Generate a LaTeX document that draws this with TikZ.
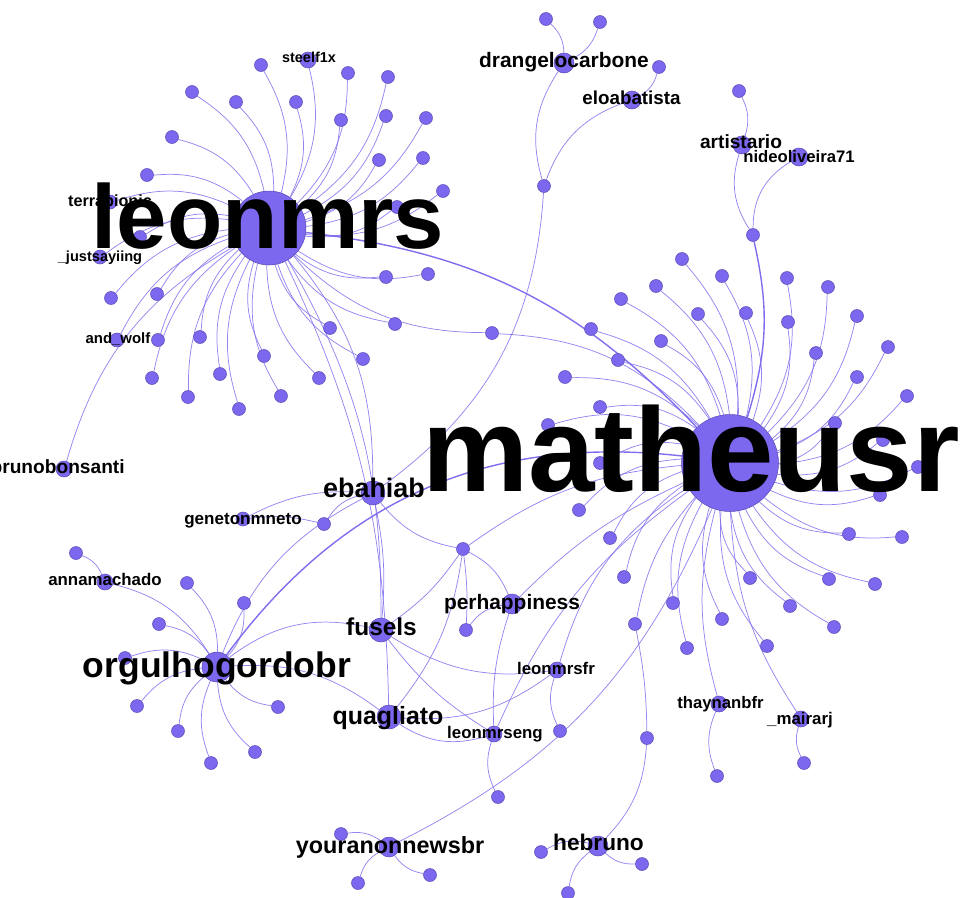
\documentclass[tikz,border=0pt]{standalone}
\usepackage{fontspec}
\setmainfont{Liberation Sans}
\usepackage{tikz}
\usetikzlibrary{backgrounds}
\definecolor{cNode}{HTML}{7B68EE}
\definecolor{cRim}{HTML}{5A4CB6}
\definecolor{cEdge}{HTML}{7F6FEE}
\tikzset{
  vert/.style={circle,fill=cNode,draw=cRim,line width=0.3pt,inner sep=0pt,minimum size=2.6mm},
  tie/.style={draw=cEdge,line width=0.42pt,opacity=0.85},
  heavy/.style={tie,line width=0.8pt,opacity=1},
  handle/.style={inner sep=0pt,anchor=base,text=black},
}
\newcommand{\acct}[4]{\node[vert,minimum size=#4] (#1) at (#2,#3) {};}
\newcommand{\nick}[5]{\node[handle,font=\bfseries\fontsize{#4}{#4}\selectfont]
  (#1) at (#2,#3) {#5};}
\newcommand{\tie}[3][22]{\draw[tie] (#2) to[bend left=#1] (#3);}

\begin{document}
\begin{tikzpicture}[x=0.02cm,y=-0.02cm]
  \useasboundingbox (0,0) rectangle (967,897);

  % named accounts
  \acct{leo}{269}{228}{1.48cm}\acct{mat}{730}{463}{1.94cm}
  \acct{orgu}{217}{667}{0.6cm}\acct{ebah}{373}{493}{0.48cm}
  \acct{fuse}{381}{630}{0.48cm}\acct{quag}{389}{717}{0.48cm}
  \acct{perh}{512}{604}{0.4cm}\acct{your}{389}{847}{0.4cm}
  \acct{hebr}{598}{846}{0.4cm}\acct{dran}{564}{63}{0.4cm}
  \acct{eloa}{632}{100}{0.36cm}\acct{arti}{742}{145}{0.36cm}
  \acct{nide}{799}{157}{0.36cm}\acct{lfr}{557}{670}{0.32cm}
  \acct{leng}{494}{734}{0.32cm}\acct{thay}{719}{704}{0.32cm}
  \acct{mair}{801}{719}{0.32cm}\acct{gene}{243}{519}{0.28cm}
  \acct{anna}{105}{582}{0.32cm}\acct{brun}{64}{469}{0.32cm}
  \acct{terr}{110}{202}{0.28cm}\acct{just}{100}{257}{0.28cm}
  \acct{andw}{117}{340}{0.28cm}\acct{stee}{308}{60}{0.32cm}

  % unnamed accounts
  \foreach \x/\y [count=\i] in {261/65,348/73,388/77,192/92,236/102,296/102,
      341/120,386/116,426/118,172/137,379/160,423/158,147/175,443/191,397/207,
      140/237,386/277,428/274,111/298,157/294,330/328,395/324,158/340,200/337,
      264/356,363/359,152/378,220/374,319/378,281/396,188/397,239/409}
    \node[vert] (v\i) at (\x,\y) {};
  \foreach \x/\y [count=\i] in {682/259,722/276,787/278,828/287,656/286,621/299,
      698/314,746/313,788/322,857/316,591/329,661/341,816/353,888/347,618/360,
      857/377,565/377,907/396,600/407,548/425,835/423,883/440,918/467,600/463,
      880/495,579/510,610/538,849/534,902/537,624/577,750/578,829/579,875/584,
      673/603,790/606,722/619,834/627,687/648,767/646}
    \node[vert] (w\i) at (\x,\y) {};
  \foreach \x/\y [count=\i] in {187/583,244/603,159/624,125/658,137/706,
      278/707,178/731,255/752,211/763}
    \node[vert] (o\i) at (\x,\y) {};
  \node[vert] (a1) at (546,19) {};\node[vert] (a2) at (600,22) {};
  \node[vert] (b1) at (659,67) {};\node[vert] (c1) at (739,91) {};
  \node[vert] (k1) at (544,186) {};\node[vert] (k2) at (753,235) {};
  \node[vert] (br) at (492,333) {};\node[vert] (kn) at (463,549) {};
  \node[vert] (g2) at (324,524) {};\node[vert] (r630) at (466,630) {};
  \node[vert] (rl) at (635,624) {};\node[vert] (h4) at (647,738) {};
  \node[vert] (d731) at (560,731) {};\node[vert] (d797) at (498,797) {};
  \node[vert] (t1) at (717,776) {};\node[vert] (q1) at (804,763) {};
  \node[vert] (n1) at (76,553) {};
  \node[vert] (y1) at (341,834) {};\node[vert] (y2) at (430,875) {};
  \node[vert] (y3) at (358,883) {};
  \node[vert] (h1) at (541,852) {};\node[vert] (h2) at (642,864) {};
  \node[vert] (h3) at (568,893) {};

  \begin{scope}[on background layer]
    \foreach \i in {1,...,32} \tie{v\i}{leo};
    \foreach \i in {1,...,39} \tie{w\i}{mat};
    \foreach \i in {1,...,9} \tie{o\i}{orgu};
    \foreach \s in {stee,terr,just,andw,brun} \tie{\s}{leo};
    \tie{a1}{dran}\tie{a2}{dran}\tie[-25]{dran}{k1}
    \tie{b1}{eloa}\tie[-25]{eloa}{k1}\tie[25]{k1}{ebah}
    \tie{c1}{arti}\tie[-25]{arti}{k2}\tie[-30]{nide}{k2}
    \draw[heavy] (k2) to[bend left=15] (mat);
    \draw[heavy] (leo) to[bend left=20] (mat);
    \draw[heavy] (orgu) to[bend left=30] (mat);
    \tie{br}{leo}\tie{br}{mat}
    \tie[20]{leo}{ebah}\tie[15]{leo}{fuse}\tie[12]{leo}{quag}
    \tie[10]{gene}{g2}\tie{g2}{ebah}\tie[15]{gene}{ebah}
    \tie[20]{orgu}{ebah}\tie[-20]{ebah}{kn}\tie[8]{ebah}{fuse}
    \tie[15]{kn}{mat}\tie[20]{kn}{perh}\tie[5]{kn}{r630}\tie{r630}{perh}
    \tie[-15]{quag}{kn}
    \tie[25]{orgu}{fuse}\tie[20]{orgu}{quag}
    \tie[-20]{fuse}{lfr}\tie[-10]{fuse}{leng}\tie[-10]{fuse}{kn}
    \tie[-20]{quag}{lfr}\tie[-25]{quag}{leng}
    \tie[10]{perh}{mat}\tie[-10]{perh}{leng}
    \tie[20]{lfr}{mat}\tie{d731}{lfr}
    \tie[15]{leng}{mat}\tie{d797}{leng}
    \tie[-20]{your}{mat}
    \tie{y1}{your}\tie{y2}{your}\tie{y3}{your}
    \tie{h1}{hebr}\tie{h2}{hebr}\tie{h3}{hebr}\tie[20]{h4}{hebr}
    \tie[15]{rl}{mat}\tie[5]{rl}{h4}
    \tie[15]{thay}{mat}\tie{t1}{thay}
    \tie[15]{mair}{mat}\tie{q1}{mair}
    \tie{n1}{anna}\tie{anna}{orgu}
  \end{scope}

  % labels
  \nick{leoL}{268}{248}{51.6}{leonmrs}
  \nick{matL}{691}{491}{68}{matheusr}
  \nick{orguL}{217}{677}{20.2}{orgulhogordobr}
  \nick{ebahL}{374}{497}{15.3}{ebahiab}
  \nick{geneL}{243}{524}{9.7}{genetonmneto}
  \nick{annaL}{105}{585}{9.6}{annamachado}
  \nick{fuseL}{381.5}{635}{13.9}{fusels}
  \nick{quagL}{388}{724}{14.2}{quagliato}
  \nick{yourL}{390}{853}{13.3}{youranonnewsbr}
  \node[handle,anchor=base east,font=\bfseries\fontsize{10.9}{10.9}\selectfont]
    (brunL) at (125,473) {brunobonsanti};
  \nick{perhL}{512}{609}{11.9}{perhappiness}
  \nick{lfrL}{556}{674}{9.6}{leonmrsfr}
  \nick{lengL}{495}{738}{9.6}{leonmrseng}
  \nick{hebrL}{598.5}{850}{12.9}{hebruno}
  \nick{thayL}{720.5}{708}{9.5}{thaynanbfr}
  \nick{mairL}{800}{724}{9.6}{\_mairarj}
  \nick{dranL}{564}{67}{11.9}{drangelocarbone}
  \nick{eloaL}{631.5}{104}{10.7}{eloabatista}
  \nick{artiL}{741}{148}{10.9}{artistario}
  \nick{nideL}{799}{162}{9.5}{nideoliveira71}
  \nick{steeL}{309}{62}{8.2}{steelf1x}
  \nick{terrL}{110}{206}{9.2}{terrabionic}
  \nick{justL}{100}{261}{8.3}{\_justsayiing}
  \nick{andwL}{118}{343}{8.5}{and\_wolf}
\end{tikzpicture}
\end{document}
